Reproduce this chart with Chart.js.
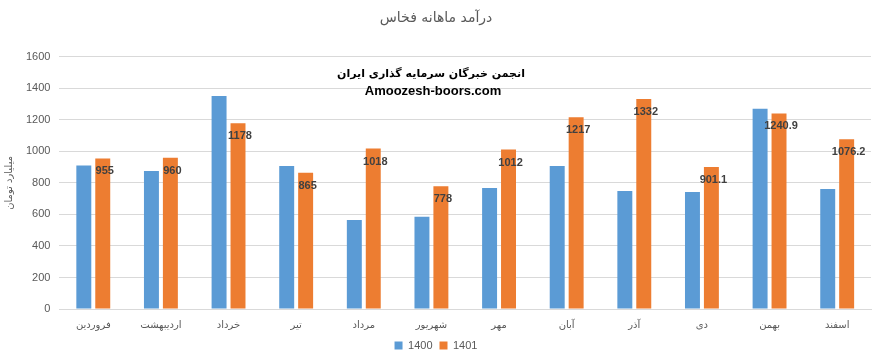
<!DOCTYPE html>
<html>
<head>
<meta charset="utf-8">
<script src="https://cdn.jsdelivr.net/npm/chart.js@4.4.1/dist/chart.umd.min.js"></script>
<style>
  html, body { margin: 0; padding: 0; background: #fff; }
  #wrap { width: 883px; height: 363px; }
</style>
</head>
<body>
<div id="wrap"><canvas id="incomeChart" width="883" height="363"></canvas></div>
<script>
// Monthly data (billion toman)
const months = ['فروردین', 'اردیبهشت', 'خرداد', 'تیر', 'مرداد', 'شهریور', 'مهر', 'آبان', 'آذر', 'دی', 'بهمن', 'اسفند'];
const sales1400 = [910, 876, 1352, 908, 565, 585, 768, 908, 749, 743, 1270, 762];
const sales1401 = [955, 960, 1178, 865, 1018, 778, 1012, 1217, 1332, 901.1, 1240.9, 1076.2];
const yTicks = [0, 200, 400, 600, 800, 1000, 1200, 1400, 1600];

const persianFont = '"DejaVu Sans", sans-serif';

// value labels on the 1401 bars + watermark text
const labelPlugin = {
    id: 'labels',
    afterDatasetsDraw(chart) {
        const ctx = chart.ctx;
        const meta = chart.getDatasetMeta(1);
        ctx.save();
        ctx.font = 'bold 11px "Liberation Sans", sans-serif';
        ctx.fillStyle = '#404040';
        ctx.textAlign = 'center';
        ctx.textBaseline = 'middle';
        meta.data.forEach((bar, i) => {
            ctx.fillText(String(sales1401[i]), bar.x + 2, bar.y + 13);
        });

        ctx.fillStyle = '#000';
        ctx.font = 'bold 11px ' + persianFont;
        ctx.fillText('انجمن خبرگان سرمایه گذاری ایران', 431, 74);
        ctx.font = 'bold 13px "Liberation Sans", sans-serif';
        ctx.fillText('Amoozesh-boors.com', 433, 91);
        ctx.restore();
    }
};

const ctx = document.getElementById('incomeChart').getContext('2d');
new Chart(ctx, {
    type: 'bar',
    data: {
        labels: months,
        datasets: [
            {
                label: '1400',
                data: sales1400,
                backgroundColor: '#5B9BD5',
                barPercentage: 0.79,
                categoryPercentage: 0.56
            },
            {
                label: '1401',
                data: sales1401,
                backgroundColor: '#ED7D31',
                barPercentage: 0.79,
                categoryPercentage: 0.56
            }
        ]
    },
    options: {
        responsive: false,
        animation: false,
        layout: { padding: { left: 1, right: 12, top: 6, bottom: 2 } },
        plugins: {
            title: {
                display: true,
                text: 'درآمد ماهانه فخاس',
                color: '#595959',
                font: { family: persianFont, size: 14, weight: 'normal' },
                padding: { top: 4, bottom: 30 }
            },
            legend: {
                position: 'bottom',
                labels: {
                    boxWidth: 8,
                    boxHeight: 8,
                    color: '#595959',
                    font: { family: '"Liberation Sans", sans-serif', size: 11 },
                    padding: 7
                }
            },
            tooltip: { enabled: false }
        },
        scales: {
            x: {
                grid: { display: false },
                border: { color: '#d9d9d9' },
                ticks: {
                    color: '#595959',
                    font: { family: persianFont, size: 10 },
                    maxRotation: 0,
                    padding: 2
                }
            },
            y: {
                min: 0,
                max: 1600,
                afterBuildTicks: axis => { axis.ticks = yTicks.map(v => ({ value: v })); },
                grid: { color: '#d9d9d9', drawTicks: false },
                border: { display: false },
                ticks: {
                    color: '#595959',
                    font: { family: '"Liberation Sans", sans-serif', size: 11 },
                    padding: 9,
                    callback: v => String(v)
                },
                title: {
                    display: true,
                    text: 'میلیارد تومان',
                    color: '#595959',
                    font: { family: persianFont, size: 10, weight: 'normal' },
                    padding: 2
                }
            }
        }
    },
    plugins: [labelPlugin]
});
</script>
</body>
</html>
